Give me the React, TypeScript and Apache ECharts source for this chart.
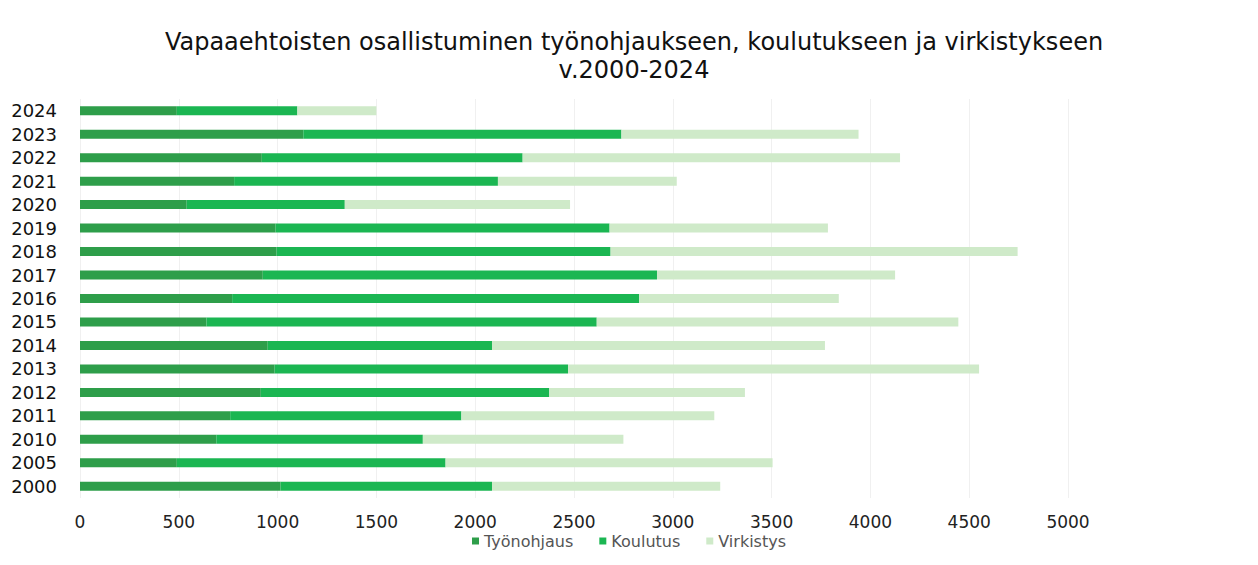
import React, { useEffect, useRef } from "react";
import * as echarts from "echarts";

const years = ["2000", "2005", "2010", "2011", "2012", "2013", "2014", "2015", "2016", "2017", "2018", "2019", "2020", "2021", "2022", "2023", "2024"];
const tyonohjaus = [1015, 490, 690, 760, 915, 985, 950, 640, 770, 925, 995, 990, 540, 780, 920, 1130, 490];
const koulutus = [1070, 1360, 1045, 1170, 1460, 1485, 1135, 1975, 2060, 1995, 1690, 1690, 800, 1335, 1320, 1610, 610];
const virkistys = [1155, 1655, 1015, 1280, 990, 2080, 1685, 1830, 1010, 1205, 2060, 1105, 1140, 905, 1910, 1200, 400];
const seriesNames = ["Työnohjaus", "Koulutus", "Virkistys"];
const colors = ["#2e9e4a", "#1bb652", "#cfeac9"];

const FONT = "DejaVu Sans";

export default function App() {
  const ref = useRef<HTMLDivElement>(null);
  useEffect(() => {
    const chart = echarts.init(ref.current!, null, { renderer: "svg" });
    const data = [tyonohjaus, koulutus, virkistys];
    chart.setOption({
      animation: false,
      title: {
        text: "Vapaaehtoisten osallistuminen työnohjaukseen, koulutukseen ja virkistykseen\nv.2000-2024",
        left: 629,
        textAlign: "center",
        top: 23,
        textStyle: { fontFamily: FONT, fontSize: 24, fontWeight: "normal", color: "#111", lineHeight: 28 },
      },
      legend: {
        bottom: 11,
        left: "center",
        itemWidth: 7,
        itemHeight: 7,
        itemGap: 26,
        icon: "rect",
        textStyle: { fontFamily: FONT, fontSize: 16, color: "#555" },
        data: seriesNames,
      },
      grid: { left: 80, right: 190, top: 99, bottom: 67, containLabel: false },
      xAxis: {
        type: "value",
        min: 0,
        max: 5000,
        interval: 500,
        axisLine: { show: false },
        axisTick: { show: false },
        splitLine: { show: true, lineStyle: { color: "#f0f0f0", width: 1 } },
        axisLabel: { fontFamily: FONT, fontSize: 17, color: "#222", margin: 15, formatter: (v: number) => String(v) },
      },
      yAxis: {
        type: "category",
        data: years,
        axisLine: { show: false },
        axisTick: { show: false },
        axisLabel: { fontFamily: FONT, fontSize: 18, color: "#111", margin: 23, interval: 0 },
      },
      series: seriesNames.map((name, i) => ({
        name,
        type: "bar",
        stack: "total",
        data: data[i],
        barWidth: 9,
        itemStyle: { color: colors[i] },
      })),
    });
    return () => chart.dispose();
  }, []);
  return <div ref={ref} style={{ width: 1258, height: 565, margin: -8 }} />;
}
